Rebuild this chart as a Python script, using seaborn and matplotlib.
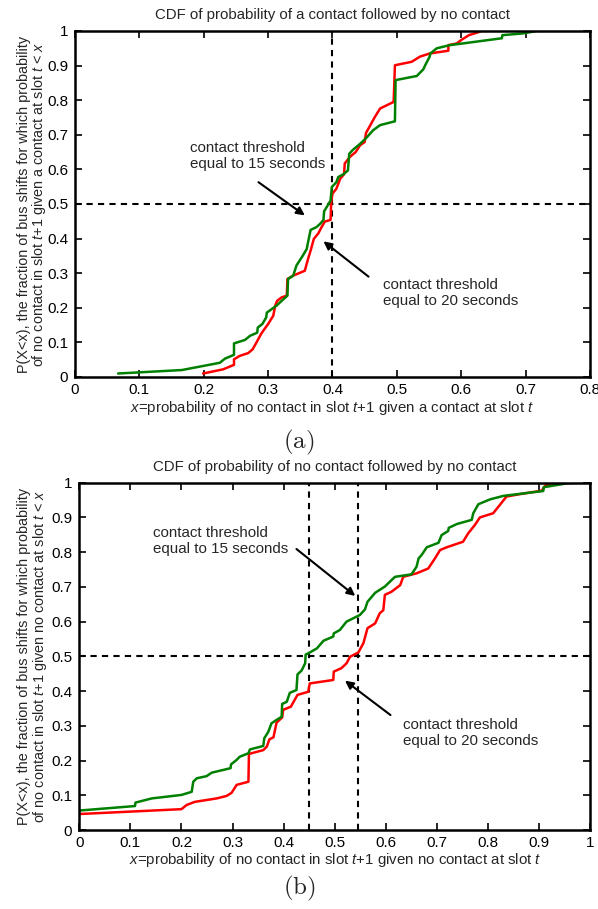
import numpy as np
import pandas as pd
import matplotlib
matplotlib.use("Agg")
import matplotlib.pyplot as plt
import seaborn as sns

#theme first, fonts after (set_style resets font.family)
sns.set_style("white")
plt.rcParams['font.family'] = ['Liberation Sans', 'DejaVu Sans']
plt.rcParams['mathtext.fontset'] = 'custom'
plt.rcParams['mathtext.rm'] = 'Liberation Sans'
plt.rcParams['mathtext.it'] = 'Liberation Sans:italic'

# (a) contact followed by no contact, threshold 20 s (red)
a_red_x = [0.199, 0.230, 0.247, 0.247, 0.256, 0.269, 0.276, 0.282, 0.289, 0.293,
           0.300, 0.308, 0.311, 0.314, 0.321, 0.329, 0.330, 0.339, 0.357, 0.362,
           0.366, 0.371, 0.378, 0.383, 0.388, 0.397, 0.398, 0.400, 0.406, 0.412,
           0.418, 0.419, 0.427, 0.436, 0.443, 0.450, 0.452, 0.458, 0.463, 0.466,
           0.474, 0.495, 0.497, 0.523, 0.536, 0.551, 0.580, 0.580, 0.593, 0.600,
           0.612, 0.629]
a_red_y = [0.010, 0.022, 0.035, 0.051, 0.061, 0.069, 0.080, 0.100, 0.124, 0.135,
           0.153, 0.177, 0.206, 0.220, 0.230, 0.235, 0.283, 0.293, 0.307, 0.341,
           0.365, 0.399, 0.415, 0.433, 0.449, 0.454, 0.505, 0.530, 0.544, 0.573,
           0.586, 0.617, 0.636, 0.650, 0.670, 0.679, 0.705, 0.725, 0.742, 0.752,
           0.776, 0.795, 0.901, 0.911, 0.926, 0.935, 0.943, 0.959, 0.964, 0.974,
           0.988, 0.998]

# (a) threshold 15 s (green)
a_grn_x = [0.067, 0.166, 0.225, 0.233, 0.247, 0.247, 0.264, 0.272, 0.283, 0.284,
           0.291, 0.297, 0.298, 0.313, 0.321, 0.330, 0.331, 0.339, 0.344, 0.354,
           0.360, 0.362, 0.366, 0.375, 0.381, 0.386, 0.387, 0.391, 0.397, 0.399,
           0.406, 0.409, 0.417, 0.424, 0.426, 0.432, 0.443, 0.453, 0.463, 0.474,
           0.497, 0.498, 0.531, 0.541, 0.544, 0.551, 0.552, 0.562, 0.582, 0.663,
           0.664, 0.696, 0.717]
a_grn_y = [0.010, 0.020, 0.041, 0.053, 0.064, 0.097, 0.107, 0.119, 0.128, 0.143,
           0.153, 0.172, 0.186, 0.206, 0.220, 0.235, 0.283, 0.293, 0.322, 0.351,
           0.370, 0.389, 0.425, 0.433, 0.443, 0.454, 0.479, 0.491, 0.510, 0.549,
           0.563, 0.578, 0.586, 0.597, 0.645, 0.657, 0.674, 0.692, 0.713, 0.728,
           0.739, 0.858, 0.870, 0.889, 0.901, 0.926, 0.935, 0.950, 0.959, 0.979,
           0.988, 0.993, 1.000]

# (b) no contact followed by no contact, threshold 20 s (red)
b_red_x = [0.000, 0.200, 0.210, 0.226, 0.269, 0.288, 0.298, 0.308, 0.331, 0.332,
           0.360, 0.367, 0.372, 0.380, 0.386, 0.397, 0.399, 0.414, 0.427, 0.448,
           0.451, 0.497, 0.498, 0.513, 0.523, 0.530, 0.546, 0.556, 0.564, 0.579,
           0.588, 0.595, 0.598, 0.611, 0.628, 0.634, 0.660, 0.683, 0.696, 0.706,
           0.719, 0.751, 0.761, 0.774, 0.784, 0.810, 0.823, 0.836, 0.862, 0.905,
           0.911, 0.921, 0.960]
b_red_y = [0.046, 0.060, 0.072, 0.081, 0.091, 0.098, 0.107, 0.130, 0.139, 0.219,
           0.230, 0.240, 0.261, 0.267, 0.309, 0.324, 0.346, 0.355, 0.389, 0.398,
           0.422, 0.432, 0.456, 0.466, 0.480, 0.499, 0.511, 0.538, 0.581, 0.595,
           0.624, 0.633, 0.677, 0.686, 0.705, 0.729, 0.739, 0.753, 0.782, 0.806,
           0.814, 0.830, 0.854, 0.878, 0.900, 0.912, 0.936, 0.960, 0.967, 0.977,
           0.990, 0.998, 1.000]

# (b) threshold 15 s (green)
b_grn_x = [0.000, 0.109, 0.110, 0.142, 0.200, 0.220, 0.223, 0.230, 0.249, 0.259,
           0.296, 0.297, 0.308, 0.314, 0.331, 0.334, 0.360, 0.362, 0.370, 0.376,
           0.386, 0.396, 0.397, 0.406, 0.412, 0.425, 0.427, 0.435, 0.442, 0.443,
           0.451, 0.465, 0.478, 0.497, 0.498, 0.510, 0.523, 0.549, 0.559, 0.564,
           0.579, 0.598, 0.615, 0.618, 0.650, 0.660, 0.664, 0.670, 0.680, 0.703,
           0.709, 0.722, 0.723, 0.739, 0.768, 0.771, 0.781, 0.804, 0.830, 0.908,
           0.909, 0.954, 0.975]
b_grn_y = [0.056, 0.069, 0.079, 0.091, 0.101, 0.110, 0.139, 0.149, 0.155, 0.165,
           0.178, 0.189, 0.202, 0.211, 0.221, 0.232, 0.242, 0.264, 0.283, 0.307,
           0.317, 0.326, 0.363, 0.369, 0.395, 0.403, 0.448, 0.459, 0.480, 0.505,
           0.511, 0.523, 0.545, 0.557, 0.566, 0.576, 0.600, 0.619, 0.635, 0.657,
           0.683, 0.701, 0.725, 0.729, 0.736, 0.758, 0.782, 0.792, 0.814, 0.827,
           0.849, 0.861, 0.870, 0.881, 0.893, 0.912, 0.938, 0.952, 0.962, 0.976,
           0.987, 0.998, 1.000]

RED = (1, 0, 0)
GREEN = (0, 0.5, 0)

fig = plt.figure(figsize=(5.98, 9.09), dpi=100)
ax_a = fig.add_axes([0.1254, 0.5853, 0.8612, 0.3806])
ax_b = fig.add_axes([0.1326, 0.0869, 0.8545, 0.3821])


def draw_cdf(ax, rx, ry, gx, gy):
    red = pd.DataFrame({'x': rx, 'y': ry})
    grn = pd.DataFrame({'x': gx, 'y': gy})
    sns.lineplot(data=red, x='x', y='y', color=RED, lw=1.8, sort=False,
                 estimator=None, ax=ax)
    sns.lineplot(data=grn, x='x', y='y', color=GREEN, lw=1.8, sort=False,
                 estimator=None, ax=ax)


def style_axes(ax, xmax, xticks):
    ax.set_xlim(0, xmax)
    ax.set_ylim(0, 1)
    ax.set_xticks(xticks)
    ax.set_yticks(np.arange(0, 1.01, 0.1))
    ax.xaxis.set_major_formatter(plt.FormatStrFormatter('%g'))
    ax.yaxis.set_major_formatter(plt.FormatStrFormatter('%g'))
    ax.tick_params(direction='in', top=True, right=True, bottom=True, left=True,
                   length=5, width=1.2, labelsize=11, pad=5, colors='k')
    ax.tick_params(axis='x', pad=4)
    ax.grid(False)
    for s in ax.spines.values():
        s.set_linewidth(1.8)
        s.set_color('k')


dash = (0, (3, 2.5))
arrow = dict(arrowstyle='-|>', color='k', lw=1.5, mutation_scale=12,
             shrinkA=0, shrinkB=0)
ylab_font = dict(size=10.4)

#----- panel (a)
draw_cdf(ax_a, a_red_x, a_red_y, a_grn_x, a_grn_y)
ax_a.axvline(0.4, color='k', lw=1.5, ls=dash, zorder=1)
ax_a.axhline(0.5, color='k', lw=1.5, ls=dash, zorder=1)
style_axes(ax_a, 0.8, np.arange(0, 0.81, 0.1))
ax_a.set_title('CDF of probability of a contact followed by no contact',
               fontsize=10.8, y=1.045, pad=0, va='center')
ax_a.set_xlabel(r'$x$=probability of no contact in slot $\mathit{t{+}1}$ given a contact at slot $t$',
                fontsize=10.8, va='center')
ax_a.xaxis.set_label_coords(0.5, -0.09)
ax_a.set_ylabel('P(X<x), the fraction of bus shifts for which probability\n'
                r'of no contact in slot $\mathit{t{+}1}$ given a contact at slot $t$ < $x$',
                fontdict=ylab_font, linespacing=0.95)
ax_a.yaxis.set_label_coords(-0.052, 0.5)
ax_a.text(0.179, 0.638, 'contact threshold\nequal to 15 seconds', fontsize=10.9,
          ha='left', va='center', linespacing=1.2)
ax_a.annotate('', xy=(0.357, 0.467), xytext=(0.285, 0.563), arrowprops=arrow)
ax_a.text(0.478, 0.243, 'contact threshold\nequal to 20 seconds', fontsize=10.9,
          ha='left', va='center', linespacing=1.2)
ax_a.annotate('', xy=(0.386, 0.392), xytext=(0.456, 0.290), arrowprops=arrow)

#----- panel (b)
draw_cdf(ax_b, b_red_x, b_red_y, b_grn_x, b_grn_y)
ax_b.axvline(0.45, color='k', lw=1.5, ls=dash, zorder=1)
ax_b.axvline(0.545, color='k', lw=1.5, ls=dash, zorder=1)
ax_b.axhline(0.5, color='k', lw=1.5, ls=dash, zorder=1)
style_axes(ax_b, 1.0, np.arange(0, 1.01, 0.1))
ax_b.set_title('CDF of probability of no contact followed by no contact',
               fontsize=10.8, y=1.045, pad=0, va='center')
ax_b.set_xlabel(r'$x$=probability of no contact in slot $\mathit{t{+}1}$ given no contact at slot $t$',
                fontsize=10.8, va='center')
ax_b.xaxis.set_label_coords(0.5, -0.085)
ax_b.set_ylabel('P(X<x), the fraction of bus shifts for which probability\n'
                r'of no contact in slot $\mathit{t{+}1}$ given no contact at slot $t$ < $x$',
                fontdict=ylab_font, linespacing=0.95)
ax_b.yaxis.set_label_coords(-0.06, 0.5)
ax_b.text(0.145, 0.832, 'contact threshold\nequal to 15 seconds', fontsize=10.9,
          ha='left', va='center', linespacing=1.2)
ax_b.annotate('', xy=(0.540, 0.674), xytext=(0.425, 0.809), arrowprops=arrow)
ax_b.text(0.634, 0.279, 'contact threshold\nequal to 20 seconds', fontsize=10.9,
          ha='left', va='center', linespacing=1.2)
ax_b.annotate('', xy=(0.520, 0.430), xytext=(0.609, 0.331), arrowprops=arrow)

# sub-captions in Computer Modern
fig.text(0.5, 1 - 442 / 909, r'$\mathrm{(a)}$', math_fontfamily='cm',
         fontsize=18, ha='center', va='center')
fig.text(0.5, 1 - 888 / 909, r'$\mathrm{(b)}$', math_fontfamily='cm',
         fontsize=18, ha='center', va='center')

fig.savefig('out.png', dpi=100)
